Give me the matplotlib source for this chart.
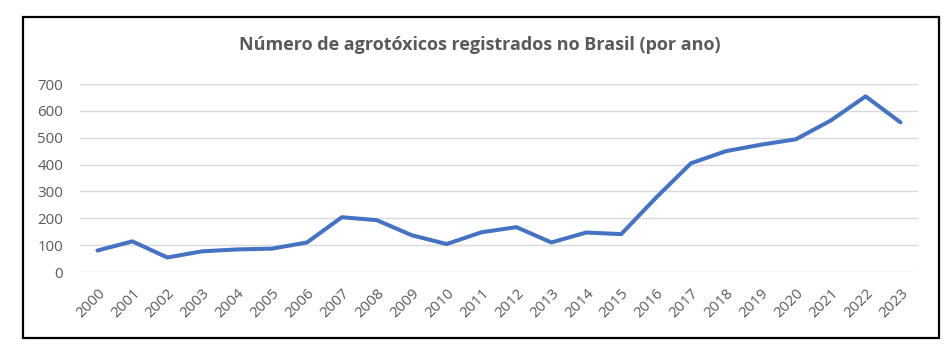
import matplotlib
matplotlib.use("Agg")
import matplotlib.pyplot as plt
from matplotlib.patches import Rectangle

years = [str(y) for y in range(2000, 2024)]
registros = [80, 114, 54, 77, 84, 87, 110, 204, 193, 137, 104, 148, 167, 110,
             147, 141, 277, 405, 450, 474, 494, 564, 654, 557]
y_ticks = [0, 100, 200, 300, 400, 500, 600, 700]
titulo = "Número de agrotóxicos registrados no Brasil (por ano)"

W, H = 952, 349
fig = plt.figure(figsize=(W / 100, H / 100), dpi=100)
fig.patch.set_facecolor("white")

# outer frame
fig.add_artist(Rectangle((23 / W, 1 - 338 / H), (939 - 23) / W, (338 - 17) / H,
                         transform=fig.transFigure, fill=False,
                         edgecolor="black", linewidth=1.6))

left, right = 80, 918
top, bottom = 84, 272
ax = fig.add_axes([left / W, 1 - bottom / H, (right - left) / W, (bottom - top) / H])

x = list(range(len(years)))
ax.plot(x, registros, color="#4472C4", linewidth=2.9, solid_capstyle="round",
        solid_joinstyle="round", zorder=3)

ax.set_xlim(-0.5, len(years) - 0.5)
ax.set_ylim(0, 700)
ax.set_yticks(y_ticks)
ax.set_xticks(x)
ax.set_xticklabels(years, rotation=45, ha="right", va="top", rotation_mode="anchor")

for v in y_ticks:
    ax.axhline(v, color="#D9D9D9", linewidth=1.0, zorder=1)

for s in ax.spines.values():
    s.set_visible(False)
ax.tick_params(axis="both", length=0, colors="#595959", labelsize=10.8)
ax.tick_params(axis="y", pad=12)
ax.tick_params(axis="x", pad=10)
for lab in ax.get_xticklabels() + ax.get_yticklabels():
    lab.set_fontfamily("Open Sans")

fig.text(480 / W, 1 - 45 / H, titulo, ha="center", va="center",
         fontsize=13, fontweight="bold", color="#595959", fontfamily="Open Sans")

fig.savefig("out.png", dpi=100, facecolor="white")
